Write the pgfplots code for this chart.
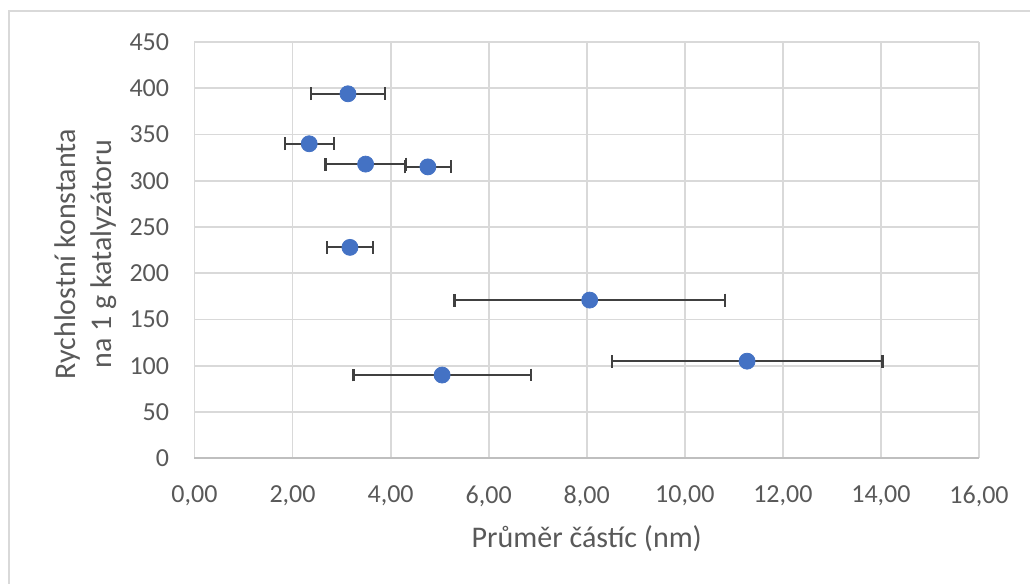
\documentclass[border=0pt]{standalone}
\usepackage{pgfplots}
\pgfplotsset{compat=1.18}
\usepackage{pgfplotstable}
\usepackage{fontspec}
\setmainfont{Carlito}
\definecolor{txt}{HTML}{595959}
\definecolor{gridc}{HTML}{D9D9D9}
\definecolor{axc}{HTML}{BFBFBF}
\definecolor{blu}{HTML}{4472C4}
\definecolor{errc}{HTML}{404040}
\pgfplotstableread{
x y ex
3.13 394 0.75
2.34 340 0.50
3.49 318 0.82
4.76 315 0.47
3.17 228 0.47
8.06 171 2.76
11.27 105 2.76
5.05 90 1.81
}\datatab
\begin{document}
\begin{tikzpicture}
\path[use as bounding box] (0,0) rectangle (515pt,292pt);
\draw[gridc, line width=0.8pt] (4.5pt,-2pt) -- (4.5pt,286.5pt) -- (517pt,286.5pt);
\begin{axis}[
  at={(97.25pt,62.85pt)}, anchor=south west,
  scale only axis, width=392.25pt, height=208.15pt,
  xmin=0, xmax=16, ymin=0, ymax=450,
  xtick={0,2,...,16}, ytick={0,50,...,450},
  grid=major, major grid style={gridc, line width=0.9pt},
  axis line style={draw=none},
  tick style={draw=none},
  font=\fontsize{13}{15}\selectfont,
  tick label style={txt},
  /pgf/number format/assume math mode=true,
  xticklabel={\pgfmathprintnumber[fixed, fixed zerofill, precision=2, use comma]{\tick}},
  yticklabel={\pgfmathprintnumber[fixed, precision=0]{\tick}},
  xticklabel style={inner sep=0pt, anchor=north, yshift=-13.5pt},
  yticklabel style={inner sep=0pt, anchor=east, xshift=-12.5pt},
  xlabel={Průměr částíc (nm)},
  ylabel={Rychlostní konstanta\\na 1 g katalyzátoru},
  label style={txt, font=\fontsize{15}{18}\selectfont},
  xlabel style={at={(axis description cs:0.5,-0.192)}, anchor=center},
  ylabel style={at={(axis description cs:-0.139,0.49)}, anchor=center, rotate=0, align=center},
  clip=false,
]
\draw[axc, line width=1pt] (axis cs:0,0) -- (axis cs:16,0);
\addplot[only marks, mark=*, mark size=4pt, mark options={fill=blu, draw=blu},
  error bars/.cd, x dir=both, x explicit,
  error bar style={errc, line width=1.1pt},
  error mark options={errc, line width=1.2pt, mark size=3.2pt, rotate=90}]
  table[x=x, y=y, x error=ex] {\datatab};
\end{axis}
\end{tikzpicture}
\end{document}
